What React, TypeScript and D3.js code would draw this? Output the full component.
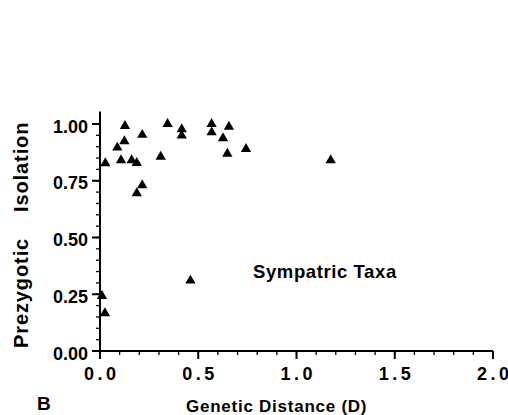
import React from "react";
import * as d3 from "d3";

const distance = [0.027, 0.088, 0.127, 0.124, 0.107, 0.161, 0.187, 0.215, 0.187, 0.215, 0.309, 0.344, 0.416, 0.416, 0.568, 0.568, 0.656, 0.626, 0.648, 0.743, 1.174, 0.010, 0.025, 0.460];
const isolation = [0.827, 0.896, 0.991, 0.924, 0.840, 0.840, 0.828, 0.952, 0.695, 0.730, 0.856, 1.0, 0.977, 0.949, 1.0, 0.963, 0.988, 0.937, 0.869, 0.890, 0.840, 0.242, 0.166, 0.310];
const xTicks = [0, 0.5, 1.0, 1.5, 2.0];
const yTicks = [0, 0.25, 0.5, 0.75, 1.0];
const xMinor = d3.range(0, 2.0001, 0.1);
const yMinor = d3.range(0, 1.0001, 0.05);

export default function App() {
  const W = 508, H = 415;
  const x = d3.scaleLinear().domain([0, 2]).range([100, 493]);
  const y = d3.scaleLinear().domain([0, 1]).range([351, 124]);
  const tri = d3.symbol().type(d3.symbolTriangle).size(46)();
  const font = "'Liberation Sans', Arial, Helvetica, sans-serif";
  return (
    <svg width={W} height={H} style={{ position: "absolute", left: 0, top: 0 }} fontFamily={font} fontWeight="bold">
      <rect width={W} height={H} fill="#fff" />
      <line x1={x(0)} x2={x(2)} y1={y(0)} y2={y(0)} stroke="#000" strokeWidth={2} />
      <line x1={x(0)} x2={x(0)} y1={y(0)} y2={y(1.055)} stroke="#000" strokeWidth={2} />
      {xMinor.map((v, i) => (
        <line key={"xm" + i} x1={x(v)} x2={x(v)} y1={y(0)} y2={y(0) + 4} stroke="#000" strokeWidth={1.3} />
      ))}
      {xTicks.map((v) => (
        <g key={"xt" + v}>
          <line x1={x(v)} x2={x(v)} y1={y(0)} y2={y(0) + 8} stroke="#000" strokeWidth={2} />
          <text x={x(v) + 1.75} y={380} textAnchor="middle" fontSize={18} letterSpacing={3.5}>{v.toFixed(1)}</text>
        </g>
      ))}
      {yMinor.map((v, i) => (
        <line key={"ym" + i} x1={x(0) - 4} x2={x(0)} y1={y(v)} y2={y(v)} stroke="#000" strokeWidth={1.3} />
      ))}
      {yTicks.map((v) => (
        <g key={"yt" + v}>
          <line x1={x(0) - 8} x2={x(0)} y1={y(v)} y2={y(v)} stroke="#000" strokeWidth={2} />
          <text x={88} y={y(v) + 8.5} textAnchor="end" fontSize={18}>{v.toFixed(2)}</text>
        </g>
      ))}
      {distance.map((d, i) => (
        <path key={"p" + i} d={tri} transform={`translate(${x(d)},${y(isolation[i])})`} fill="#000" />
      ))}
      <text x={253} y={278} fontSize={18.5} letterSpacing={0.6}>Sympatric Taxa</text>
      <text x={186} y={412} fontSize={17} letterSpacing={0.75}>Genetic Distance (D)</text>
      <text x={37} y={410} fontSize={19}>B</text>
      <g transform="translate(28,348) rotate(-90)">
        <text x={0} y={0} fontSize={20} letterSpacing={0.9}>Prezygotic</text>
        <text x={136} y={0} fontSize={20} letterSpacing={0.9}>Isolation</text>
      </g>
    </svg>
  );
}
